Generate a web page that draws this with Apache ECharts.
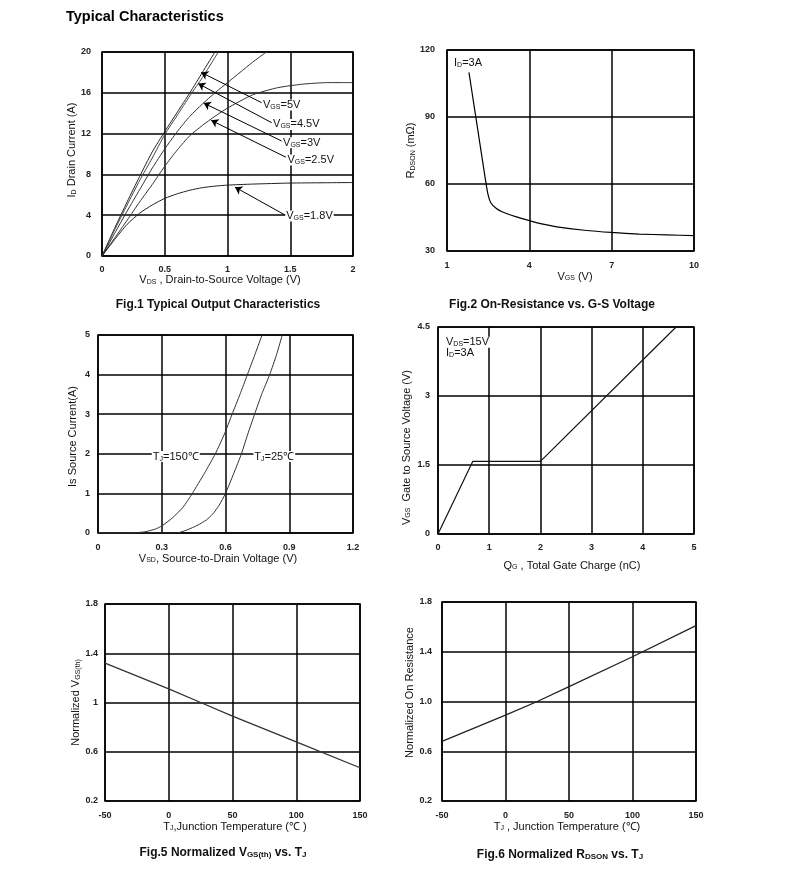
<!DOCTYPE html>
<html>
<head>
<meta charset="utf-8">
<script src="https://cdn.jsdelivr.net/npm/echarts@6/dist/echarts.min.js"></script>
<style>
  body { margin: 0; background: #fff; }
  #chart { width: 790px; height: 871px; }
</style>
</head>
<body>
<div id="chart"></div>
<script>
// Fig.1 output characteristics: [VDS, ID]
const vgs5 = [[0, 0], [0.1, 2.7], [0.2, 5.3], [0.3, 7.8], [0.4, 10.2], [0.5, 12.2], [0.6, 14.1], [0.7, 16.0], [0.8, 18.0], [0.9, 20]];
const vgs45 = [[0, 0], [0.1, 2.55], [0.2, 5.0], [0.3, 7.4], [0.4, 9.6], [0.5, 11.9], [0.6, 13.8], [0.7, 15.7], [0.8, 17.5], [0.927, 20]];
const vgs3 = [[0, 0], [0.1, 2.2], [0.2, 4.4], [0.3, 6.5], [0.4, 8.6], [0.5, 10.5], [0.6, 12.2], [0.7, 13.7], [0.8, 14.9], [0.9, 16.0], [1.0, 17.0], [1.1, 18.0], [1.2, 19.0], [1.31, 20]];
const vgs25 = [[0, 0], [0.1, 1.75], [0.2, 3.5], [0.3, 5.3], [0.4, 7.0], [0.5, 8.8], [0.6, 10.4], [0.7, 11.8], [0.8, 12.8], [0.9, 13.7], [1.0, 14.5], [1.2, 15.8], [1.4, 16.5], [1.6, 16.85], [1.8, 17.0], [2.0, 17.0]];
const vgs18 = [[0, 0], [0.1, 1.6], [0.2, 3.1], [0.3, 4.2], [0.4, 5.0], [0.5, 5.65], [0.6, 6.1], [0.7, 6.45], [0.8, 6.7], [0.9, 6.85], [1.0, 6.95], [1.2, 7.05], [1.5, 7.15], [2.0, 7.2]];
// Fig.2 RDSON vs VGS
const rdsonVgs = [[1.8, 110], [2.0, 94], [2.2, 78], [2.4, 62], [2.5, 55], [2.6, 51.5], [2.8, 49], [3.0, 47.6], [3.5, 45.4], [4, 43.6], [4.5, 42], [5, 40.8], [6, 39.3], [7, 38.3], [8, 37.6], [9, 37.2], [10, 36.9]];
// Fig.3 body diode
const diode150 = [[0, 0], [0.15, 0], [0.22, 0.03], [0.27, 0.1], [0.3, 0.18], [0.35, 0.38], [0.4, 0.65], [0.444, 1.0], [0.5, 1.5], [0.552, 2.0], [0.595, 2.5], [0.631, 3.0], [0.668, 3.5], [0.703, 4.0], [0.738, 4.5], [0.772, 5]];
const diode25 = [[0, 0], [0.37, 0], [0.42, 0.08], [0.47, 0.2], [0.51, 0.33], [0.54, 0.48], [0.57, 0.7], [0.6, 1.0], [0.64, 1.52], [0.675, 2.0], [0.705, 2.5], [0.737, 3.0], [0.77, 3.5], [0.808, 4.0], [0.84, 4.5], [0.867, 5]];
// Fig.4 gate charge
const gateCharge = [[0, 0], [0.68, 1.58], [2.0, 1.58], [4.65, 4.5]];
// Fig.5 / Fig.6 normalized vs TJ
const vthTemp = [[-50, 1.32], [0, 1.11], [25, 1.0], [50, 0.89], [100, 0.68], [150, 0.47]];
const rdsonTemp = [[-50, 0.68], [0, 0.89], [25, 1.0], [50, 1.12], [100, 1.36], [150, 1.61]];

// tick values
const fig1XTicks = [0, 0.5, 1, 1.5, 2];
const fig1YTicks = [0, 4, 8, 12, 16, 20];
const fig2XTicks = [1, 4, 7, 10];
const fig2YTicks = [30, 60, 90, 120];
const fig3XTicks = [0, 0.3, 0.6, 0.9, 1.2];
const fig3YTicks = [0, 1, 2, 3, 4, 5];
const fig4XTicks = [0, 1, 2, 3, 4, 5];
const fig4YTicks = [0, 1.5, 3, 4.5];
const tempTicks = [-50, 0, 50, 100, 150];
const normTicks = [0.2, 0.6, 1.0, 1.4, 1.8];

const FONT = 'Arial, "Liberation Sans", sans-serif';
const INK = '#111';
const rich = {
    s: { fontSize: 7, fontFamily: FONT, color: INK, verticalAlign: 'bottom' }
};
const richB = {
    s: { fontSize: 8, fontFamily: FONT, fontWeight: 'bold', color: INK, verticalAlign: 'bottom' }
};

const grids = [
    { left: 102, top: 52, width: 251, height: 204 },
    { left: 447, top: 50, width: 247, height: 201 },
    { left: 98, top: 335, width: 255, height: 198 },
    { left: 438, top: 327, width: 256, height: 207 },
    { left: 105, top: 604, width: 255, height: 197 },
    { left: 442, top: 602, width: 254, height: 199 }
].map(g => Object.assign({ show: true, borderColor: '#000', borderWidth: 1.5 }, g));

function axis(idx, ticks, name, gap, pad, margin, fmt) {
    return {
        type: 'value',
        gridIndex: idx,
        min: ticks[0],
        max: ticks[ticks.length - 1],
        interval: +(ticks[1] - ticks[0]).toFixed(6),
        name: name,
        nameLocation: 'middle',
        nameGap: gap,
        nameTextStyle: { fontSize: 11, fontFamily: FONT, color: INK, padding: pad, rich: rich },
        axisLine: { show: false },
        axisTick: { show: false },
        axisLabel: { fontSize: 9, fontWeight: 'bold', fontFamily: FONT, color: '#222', margin: margin, formatter: fmt },
        splitLine: { show: true, lineStyle: { color: '#000', width: 1.5 } }
    };
}

function curve(idx, data, color, width, smooth) {
    return {
        type: 'line',
        xAxisIndex: idx,
        yAxisIndex: idx,
        data: data,
        symbol: 'none',
        smooth: smooth ? 0.2 : false,
        lineStyle: { color: color, width: width },
        silent: true
    };
}

function note(text, coord) {
    return {
        coord: coord,
        label: {
            show: true, position: 'right', distance: 0, formatter: text,
            fontSize: 11, fontFamily: FONT, color: INK, backgroundColor: '#fff',
            padding: [0, 1], rich: rich
        }
    };
}

function withNotes(series, notes, arrows) {
    series.markPoint = { symbol: 'circle', symbolSize: 0, silent: true, data: notes };
    if (arrows) {
        series.markLine = {
            silent: true,
            symbol: ['none', 'arrow'],
            symbolSize: 7,
            label: { show: false },
            lineStyle: { color: '#000', width: 1, type: 'solid' },
            data: arrows.map(a => [{ coord: a[0] }, { coord: a[1] }])
        };
    }
    return series;
}

const option = {
    backgroundColor: '#fff',
    animation: false,
    grid: grids,
    xAxis: [
        axis(0, fig1XTicks, 'V{s|DS} , Drain-to-Source Voltage (V)', 17, [0, 15, 0, 0], 9),
        axis(1, fig2XTicks, 'V{s|GS} (V)', 20, [0, 0, 0, 9], 10),
        axis(2, fig3XTicks, 'V{s|SD}, Source-to-Drain Voltage (V)', 20, [0, 15, 0, 0], 10),
        axis(3, fig4XTicks, 'Q{s|G} , Total Gate Charge (nC)', 26, [0, 0, 0, 12], 9),
        axis(4, tempTicks, 'T{s|J},Junction Temperature (℃ )', 20, [0, 0, 0, 5], 10),
        axis(5, tempTicks, 'T{s|J} , Junction Temperature (℃)', 20, [0, 4, 0, 0], 10)
    ],
    yAxis: [
        axis(0, fig1YTicks, 'I{s|D} Drain Current (A)', 23, [0, 0, 0, 8], 11),
        axis(1, fig2YTicks, 'R{s|DSON} (mΩ)', 23, 0, 12),
        axis(2, fig3YTicks, 'Is Source Current(A)', 20, [0, 5, 0, 0], 8),
        axis(3, fig4YTicks, 'V{s|GS}  Gate to Source Voltage (V)', 26, [0, 34, 0, 0], 8),
        axis(4, normTicks, 'Normalized V{s|GS(th)}', 20, 0, 7),
        axis(5, normTicks, 'Normalized On Resistance', 19, [0, 0, 0, 18], 10, v => v.toFixed(1))
    ],
    series: [
        withNotes(curve(0, vgs5, '#222', 1, true), [note('V{s|GS}=5V', [1.275, 14.8])], [[[1.272, 15.03], [0.79, 18.0]]]),
        withNotes(curve(0, vgs45, '#444', 1, true), [note('V{s|GS}=4.5V', [1.355, 12.9])], [[[1.352, 13.07], [0.767, 16.9]]]),
        withNotes(curve(0, vgs3, '#333', 1, true), [note('V{s|GS}=3V', [1.435, 11.1])], [[[1.432, 11.27], [0.81, 15.0]]]),
        withNotes(curve(0, vgs25, '#333', 1, true), [note('V{s|GS}=2.5V', [1.47, 9.4])], [[[1.466, 9.68], [0.87, 13.3]]]),
        withNotes(curve(0, vgs18, '#222', 1, true), [note('V{s|GS}=1.8V', [1.46, 3.92])], [[[1.458, 4.02], [1.06, 6.75]]]),
        withNotes(curve(1, rdsonVgs, '#000', 1.2, true), [note('I{s|D}=3A', [1.22, 114.2])]),
        withNotes(curve(2, diode150, '#333', 1, true), [note('T{s|J}=150℃', [0.253, 1.93])]),
        withNotes(curve(2, diode25, '#333', 1, true), [note('T{s|J}=25℃', [0.731, 1.93])]),
        withNotes(curve(3, gateCharge, '#111', 1.2, false), [note('V{s|DS}=15V', [0.137, 4.17]), note('I{s|D}=3A', [0.137, 3.93])]),
        curve(4, vthTemp, '#333', 1.3, false),
        curve(5, rdsonTemp, '#222', 1.3, false)
    ],
    graphic: [
        { type: 'text', x: 66, y: 17, style: { text: 'Typical Characteristics', fontSize: 14.5, fontWeight: 'bold', fontFamily: FONT, fill: '#000', align: 'left', verticalAlign: 'middle' } },
        { type: 'text', x: 218, y: 305, style: { text: 'Fig.1 Typical Output Characteristics', fontSize: 12, fontWeight: 'bold', fontFamily: FONT, fill: INK, align: 'center', verticalAlign: 'middle' } },
        { type: 'text', x: 552, y: 305, style: { text: 'Fig.2 On-Resistance vs. G-S Voltage', fontSize: 12, fontWeight: 'bold', fontFamily: FONT, fill: INK, align: 'center', verticalAlign: 'middle' } },
        { type: 'text', x: 223, y: 853, style: { text: 'Fig.5 Normalized V{s|GS(th)} vs. T{s|J}', fontSize: 12, fontWeight: 'bold', fontFamily: FONT, fill: INK, align: 'center', verticalAlign: 'middle', rich: richB } },
        { type: 'text', x: 560, y: 855, style: { text: 'Fig.6 Normalized R{s|DSON} vs. T{s|J}', fontSize: 12, fontWeight: 'bold', fontFamily: FONT, fill: INK, align: 'center', verticalAlign: 'middle', rich: richB } }
    ]
};

const myChart = echarts.init(document.getElementById('chart'));
myChart.setOption(option);
</script>
</body>
</html>
